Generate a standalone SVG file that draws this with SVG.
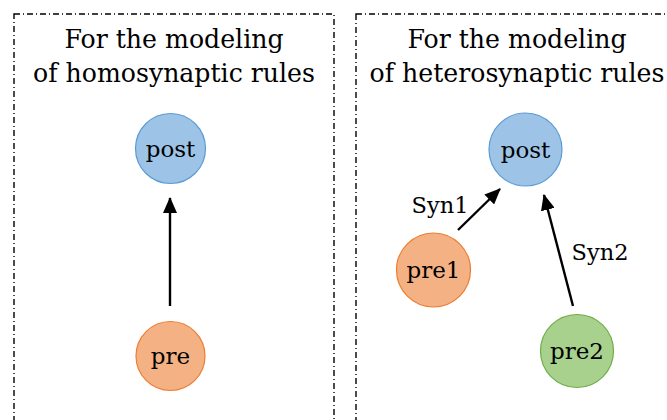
<svg xmlns="http://www.w3.org/2000/svg" width="667" height="420" viewBox="0 0 667 420">
<style>
.box{fill:none;stroke:#000;stroke-width:1.4;stroke-dasharray:6,3,1,3}
.t{font-family:"DejaVu Serif","Liberation Serif",serif;fill:#000}
.title{font-size:25.2px;text-anchor:middle}
.lbl{font-size:23px;text-anchor:middle;dominant-baseline:central}
.syn{font-size:22.5px;text-anchor:middle}
.blue{fill:#9DC3E6;stroke:#5B9BD5;stroke-width:1.2}
.orange{fill:#F4B183;stroke:#ED7D31;stroke-width:1.2}
.green{fill:#A9D18E;stroke:#70AD47;stroke-width:1.2}
.edge{stroke:#000;stroke-width:2.4;fill:none}
</style>
<defs>
<marker id="arr" viewBox="0 0 16 14" refX="15" refY="7" markerWidth="16" markerHeight="14" markerUnits="userSpaceOnUse" orient="auto">
<path d="M0,0 L16,7 L0,14 z" fill="#000"/>
</marker>
</defs>
<rect class="box" x="14" y="14" width="320" height="430"/>
<rect class="box" x="356" y="14" width="340" height="430"/>
<text class="t title" x="174" y="48">For the modeling</text>
<text class="t title" x="174" y="82">of homosynaptic rules</text>
<text class="t title" x="517" y="48">For the modeling</text>
<text class="t title" x="517" y="82">of heterosynaptic rules</text>
<g id="connectors">
<line class="edge" x1="170" y1="306" x2="170" y2="198" marker-end="url(#arr)"/>
<line class="edge" x1="458" y1="230" x2="500" y2="189" marker-end="url(#arr)"/>
<line class="edge" x1="573" y1="306" x2="544" y2="195" marker-end="url(#arr)"/>
<text class="t syn" x="440" y="213">Syn1</text>
<text class="t syn" x="600" y="260">Syn2</text>
</g>
<g id="post_left"><circle class="blue" cx="170.5" cy="148.5" r="35"/><text class="t lbl" x="170.5" y="148.5">post</text></g>
<g id="pre_left"><circle class="orange" cx="170.5" cy="356" r="34.5"/><text class="t lbl" x="170.5" y="356">pre</text></g>
<g id="post_right"><circle class="blue" cx="525.5" cy="149.5" r="36.5"/><text class="t lbl" x="525.5" y="149.5">post</text></g>
<g id="pre1"><circle class="orange" cx="433.5" cy="270" r="37"/><text class="t lbl" x="433.5" y="270">pre1</text></g>
<g id="pre2"><circle class="green" cx="577" cy="351" r="36.5"/><text class="t lbl" x="577" y="351">pre2</text></g>
</svg>
